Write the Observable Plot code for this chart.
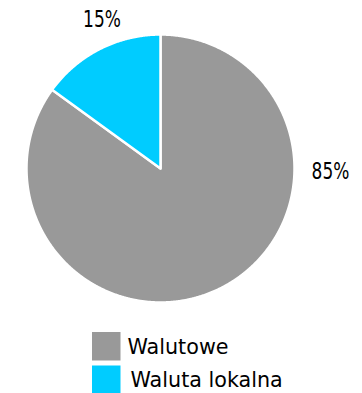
<!DOCTYPE html>
<html><head><meta charset="utf-8">
<script src="https://cdn.jsdelivr.net/npm/d3@7"></script>
<script src="https://cdn.jsdelivr.net/npm/@observablehq/plot@0.6"></script>
<style>body{margin:0;background:#fff}#chart{width:362px;height:393px;overflow:hidden}</style>
</head><body><div id="chart"></div>
<script>
const categories = ["Walutowe", "Waluta lokalna"];
const values = [85, 15];
const labels = ["85%", "15%"];
const colors = ["#999999", "#00ccff"];

// layout
const W = 362, H = 393, cx = 160, cy = 168, R = 134;
const font = "'DejaVu Sans', sans-serif";

const arcs = d3.pie().sort(null).value(d => d.v)(categories.map((c, i) => ({c, v: values[i], l: labels[i]})));
const pts = [];
arcs.forEach(a => {
  const n = Math.max(2, Math.ceil((a.endAngle - a.startAngle) / 0.005));
  pts.push({c: a.data.c, x: cx, y: cy});
  for (let k = 0; k <= n; k++) {
    const t = a.startAngle + (a.endAngle - a.startAngle) * k / n;
    pts.push({c: a.data.c, x: cx + R * Math.sin(t), y: cy - R * Math.cos(t)});
  }
  pts.push({c: a.data.c, x: cx, y: cy});
});

// label anchors relative to the pie (Excel-style outside labels)
const labelPos = arcs.map((a, i) => {
  const mid = (a.startAngle + a.endAngle) / 2;
  const big = a.endAngle - a.startAngle > Math.PI;
  return big
    ? {l: a.data.l, x: cx + R + 36, y: cy + 3}
    : {l: a.data.l, x: cx + (R + 28) * Math.sin(mid) + 15, y: cy - (R + 15) * Math.cos(mid) - 16};
});

const legend = categories.map((c, i) => ({c, i}));
const sq = 28.5, lx = 92, ly = 332, gap = 33.5;

const chart = Plot.plot({
  width: W, height: H,
  margin: 0,
  x: {type: "identity", axis: null},
  y: {type: "identity", axis: null},
  color: {domain: categories, range: colors},
  style: {background: "#fff"},
  marks: [
    Plot.line(pts, {x: "x", y: "y", z: "c", fill: "c", stroke: "#fff", strokeWidth: 2.5, strokeLinejoin: "round"}),
    Plot.text(labelPos, {x: "x", y: "y", text: "l", fontSize: 23, fontFamily: font, fill: "#000", className: "pct"}),
    Plot.rect(legend, {x1: lx, x2: lx + sq, y1: d => ly + d.i * gap, y2: d => ly + d.i * gap + sq, fill: "c"}),
    Plot.text(legend, {x: d => lx + 35 + d.i * 3, y: d => ly + 14 + d.i * gap, text: "c", textAnchor: "start", fontSize: 22, fontFamily: font, fill: "#000", className: "leg"})
  ]
});
document.getElementById("chart").appendChild(chart);
// condense glyphs horizontally to mimic the narrower original typefaces
function condense(sel, k) {
  chart.querySelectorAll(sel + " text").forEach(t => {
    const w = t.getComputedTextLength();
    t.setAttribute("textLength", (w * k).toFixed(1));
    t.setAttribute("lengthAdjust", "spacingAndGlyphs");
  });
}
condense(".pct", 0.74);
condense(".leg", 0.94);
</script>
</body></html>
